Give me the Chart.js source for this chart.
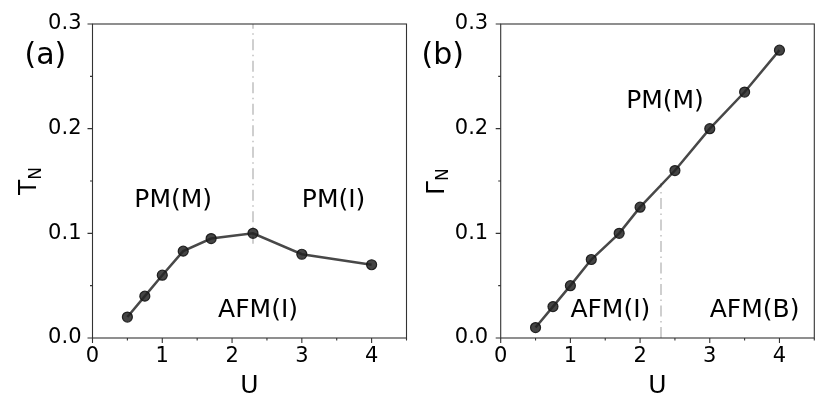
<!DOCTYPE html>
<html><head><meta charset="utf-8">
<script src="https://cdn.jsdelivr.net/npm/chart.js@4"></script>
<style>
body{margin:0;background:#fff}
#wrap{position:relative;width:830px;height:415px;background:#fff}
canvas{position:absolute;top:0}
</style></head>
<body>
<div id="wrap">
<canvas id="ca" width="415" height="415" style="left:0"></canvas>
<canvas id="cb" width="415" height="415" style="left:415px"></canvas>
</div>
<script>
// ---- data ----
const uA = [0.5, 0.75, 1.0, 1.3, 1.7, 2.3, 3.0, 4.0];
const tN = [0.02, 0.04, 0.06, 0.083, 0.095, 0.1, 0.08, 0.07];
const uB = [0.5, 0.75, 1.0, 1.3, 1.7, 2.0, 2.5, 3.0, 3.5, 4.0];
const gammaN = [0.01, 0.03, 0.05, 0.075, 0.1, 0.125, 0.16, 0.2, 0.235, 0.275];
const boundaryU = 2.3;
const boundaryA = [0.09, 0.3];
const boundaryB = [0.0, 0.148];
const xTickLabels = ['0', '1', '2', '3', '4'];
const yTickLabels = ['0.0', '0.1', '0.2', '0.3'];
const regionsA = [
  {text: 'PM(M)', u: 0.6, v: 0.125},
  {text: 'PM(I)', u: 3.0, v: 0.125},
  {text: 'AFM(I)', u: 1.8, v: 0.02}
];
const regionsB = [
  {text: 'PM(M)', u: 1.8, v: 0.22},
  {text: 'AFM(I)', u: 1.0, v: 0.02},
  {text: 'AFM(B)', u: 3.0, v: 0.02}
];

const FONT = "'DejaVu Sans', 'Liberation Sans', sans-serif";

function framePlugin(cfg) {
  return {
    id: 'frame_' + cfg.id,
    afterDraw(chart) {
      const {ctx, chartArea: a, scales: {x, y}} = chart;
      ctx.save();
      // box
      ctx.strokeStyle = '#333';
      ctx.lineWidth = 1.1;
      ctx.strokeRect(a.left, a.top, a.right - a.left, a.bottom - a.top);
      // ticks
      ctx.beginPath();
      for (let i = 0; i <= 9; i++) {
        const px = x.getPixelForValue(i * 0.5);
        const len = (i % 2 === 0) ? 5 : 2.5;
        ctx.moveTo(px, a.bottom); ctx.lineTo(px, a.bottom + len);
      }
      for (let i = 0; i <= 6; i++) {
        const py = y.getPixelForValue(i * 0.05);
        const len = (i % 2 === 0) ? 5 : 2.5;
        ctx.moveTo(a.left, py); ctx.lineTo(a.left - len, py);
      }
      ctx.stroke();
      // region labels
      ctx.fillStyle = '#000';
      ctx.textBaseline = 'alphabetic';
      ctx.textAlign = 'left';
      ctx.font = '25px ' + FONT;
      cfg.regions.forEach(r => {
        ctx.fillText(r.text, x.getPixelForValue(r.u), y.getPixelForValue(r.v));
      });
      // panel label
      ctx.font = '30px ' + FONT;
      ctx.fillText(cfg.panel, cfg.panelX, 64);
      // x title
      ctx.font = '25px ' + FONT;
      ctx.textAlign = 'center';
      ctx.fillText('U', (a.left + a.right) / 2, 393);
      // y title with subscript
      ctx.save();
      ctx.translate(cfg.yTitleX, (a.top + a.bottom) / 2 + 14);
      ctx.rotate(-Math.PI / 2);
      ctx.textAlign = 'left';
      ctx.font = '25px ' + FONT;
      ctx.fillText(cfg.ySym, 0, 0);
      const w = ctx.measureText(cfg.ySym).width;
      ctx.font = '17px ' + FONT;
      ctx.fillText('N', w, 4.5);
      ctx.restore();
      ctx.restore();
    }
  };
}

function makeChart(id, us, vals, bnd, cfg) {
  const dataPts = us.map((u, i) => ({x: u, y: vals[i]}));
  const bndPts = bnd.map(v => ({x: boundaryU, y: v}));
  return new Chart(document.getElementById(id), {
    type: 'line',
    data: {
      datasets: [
        {
          data: bndPts, order: 2,
          borderColor: '#cfcfcf', borderWidth: 2,
          borderDash: [11, 4.5, 1.5, 4.5],
          pointRadius: 0, fill: false
        },
        {
          data: dataPts, order: 1,
          borderColor: 'rgba(40,40,40,0.85)', borderWidth: 2.5,
          pointRadius: 5, pointBorderWidth: 1.2,
          pointBackgroundColor: 'rgba(35,35,35,0.85)',
          pointBorderColor: 'rgba(20,20,20,0.9)',
          fill: false, tension: 0
        }
      ]
    },
    options: {
      responsive: false,
      animation: false,
      devicePixelRatio: 1,
      layout: {padding: {left: 0, top: 24, right: cfg.padRight, bottom: 0}},
      plugins: {legend: {display: false}, tooltip: {enabled: false}},
      scales: {
        x: {
          type: 'linear', min: 0, max: 4.5,
          grid: {display: false, drawTicks: false},
          border: {display: false},
          ticks: {
            stepSize: 0.5, autoSkip: false, maxRotation: 0, padding: 8.5,
            color: '#000', font: {family: FONT, size: 21, lineHeight: 1},
            callback: v => {
              const k = xTickLabels.indexOf(String(Math.round(v * 100) / 100));
              return k >= 0 ? xTickLabels[k] : '';
            }
          },
          afterFit: s => { s.height = 77; }
        },
        y: {
          type: 'linear', min: 0, max: 0.3,
          grid: {display: false, drawTicks: false},
          border: {display: false},
          ticks: {
            stepSize: 0.1, padding: cfg.yPad,
            color: '#000', font: {family: FONT, size: 21, lineHeight: 1},
            callback: v => {
              const s = (Math.round(v * 10) / 10).toFixed(1);
              return yTickLabels.includes(s) ? s : '';
            }
          },
          afterFit: s => { s.width = cfg.yWidth; }
        }
      }
    },
    plugins: [framePlugin(cfg)]
  });
}

makeChart('ca', uA, tN, boundaryA, {
  id: 'a', regions: regionsA, panel: '(a)', panelX: 24.5,
  ySym: 'T', yTitleX: 36, padRight: 8.5, yWidth: 92.5, yPad: 11
});
makeChart('cb', uB, gammaN, boundaryB, {
  id: 'b', regions: regionsB, panel: '(b)', panelX: 6.5,
  ySym: 'Γ', yTitleX: 28.5, padRight: 15.7, yWidth: 85.7, yPad: 12.5
});
</script>
</body></html>
